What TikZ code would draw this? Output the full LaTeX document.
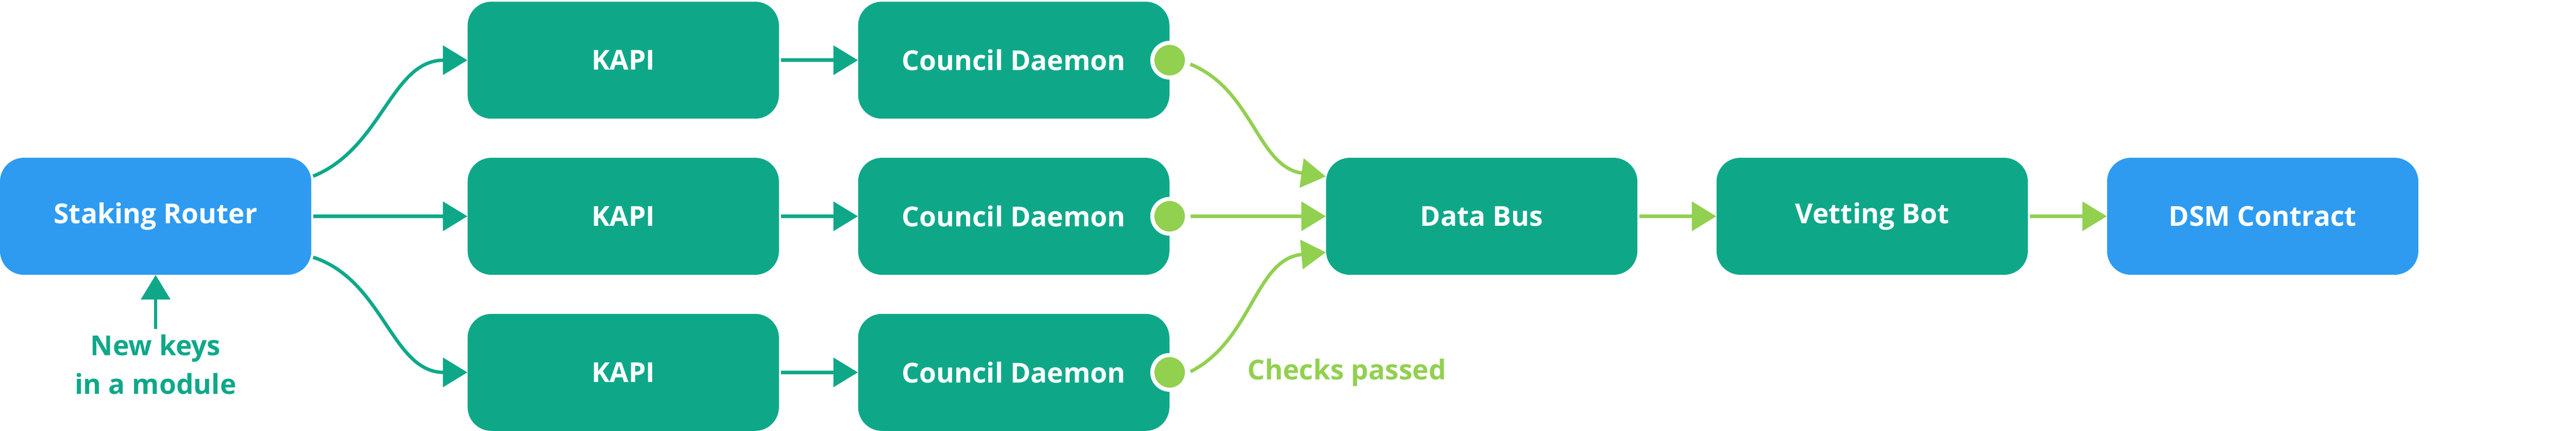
\documentclass[tikz,border=0pt]{standalone}
\usepackage{fontspec}
\setmainfont{Open Sans}
\usetikzlibrary{arrows.meta}
\definecolor{boxteal}{RGB}{14,168,137}
\definecolor{boxblue}{RGB}{46,155,240}
\definecolor{okgreen}{RGB}{146,208,80}
\begin{document}
\begin{tikzpicture}[
  box/.style={rectangle,rounded corners=0.7cm,minimum width=9.16cm,minimum height=3.44cm,
    fill=boxteal,text=white,font=\fontsize{23}{32}\selectfont\bfseries},
  port/.style={circle,fill=okgreen,draw=white,line width=0.12cm,inner sep=0,minimum size=1.02cm},
  tealarrow/.style={-{Triangle[length=0.72cm,width=0.85cm]},line width=0.1cm,boxteal,shorten <=0.05cm},
  greenarrow/.style={-{Triangle[length=0.72cm,width=0.85cm]},line width=0.1cm,okgreen,shorten <=0.05cm},
  note/.style={align=center,font=\fontsize{23}{32}\selectfont\bfseries}
]
  \useasboundingbox (0,0) rectangle (75.8,12.66);

  \node (sr) at (4.58,6.30) [box,fill=boxblue]{Staking Router};
  \node (kapi1) at (18.34,10.89) [box]{KAPI};
  \node (kapi2) at (18.34,6.30) [box]{KAPI};
  \node (kapi3) at (18.34,1.71) [box]{KAPI};
  \node (cd1) at (29.83,10.89) [box]{Council Daemon};
  \node (cd2) at (29.83,6.30) [box]{Council Daemon};
  \node (cd3) at (29.83,1.71) [box]{Council Daemon};
  \node (db) at (43.60,6.30) [box]{Data Bus};
  \node (vb) at (55.09,6.30) [box]{Vetting Bot};
  \node (dsm) at (66.58,6.30) [box,fill=boxblue]{DSM Contract};

  \node (p1) at (cd1.east) [port]{};
  \node (p2) at (cd2.east) [port]{};
  \node (p3) at (cd3.east) [port]{};

  \node (keys) at (4.58,2.94) [note,anchor=north,text=boxteal]{New keys\\in a module};
  \node (checks) at (39.63,1.70) [note,text=okgreen]{Checks passed};

  \draw[tealarrow] (keys.north) -- (sr.south);

  \draw[tealarrow] ([yshift=1.16cm]sr.east) to[out=22,in=180] (kapi1.west);
  \draw[tealarrow] (sr.east) -- (kapi2.west);
  \draw[tealarrow] ([yshift=-1.19cm]sr.east) to[out=-18,in=180] (kapi3.west);

  \draw[tealarrow] (kapi1) -- (cd1);
  \draw[tealarrow] (kapi2) -- (cd2);
  \draw[tealarrow] (kapi3) -- (cd3);

  \draw[greenarrow] (p1.-10) to[out=-22,in=172] ([yshift=1.17cm]db.west);
  \draw[greenarrow] (p2.east) -- (db.west);
  \draw[greenarrow] (p3.east) to[out=27,in=185] ([yshift=-1.06cm]db.west);

  \draw[greenarrow] (db) -- (vb);
  \draw[greenarrow] (vb) -- (dsm);

\end{tikzpicture}
\end{document}
